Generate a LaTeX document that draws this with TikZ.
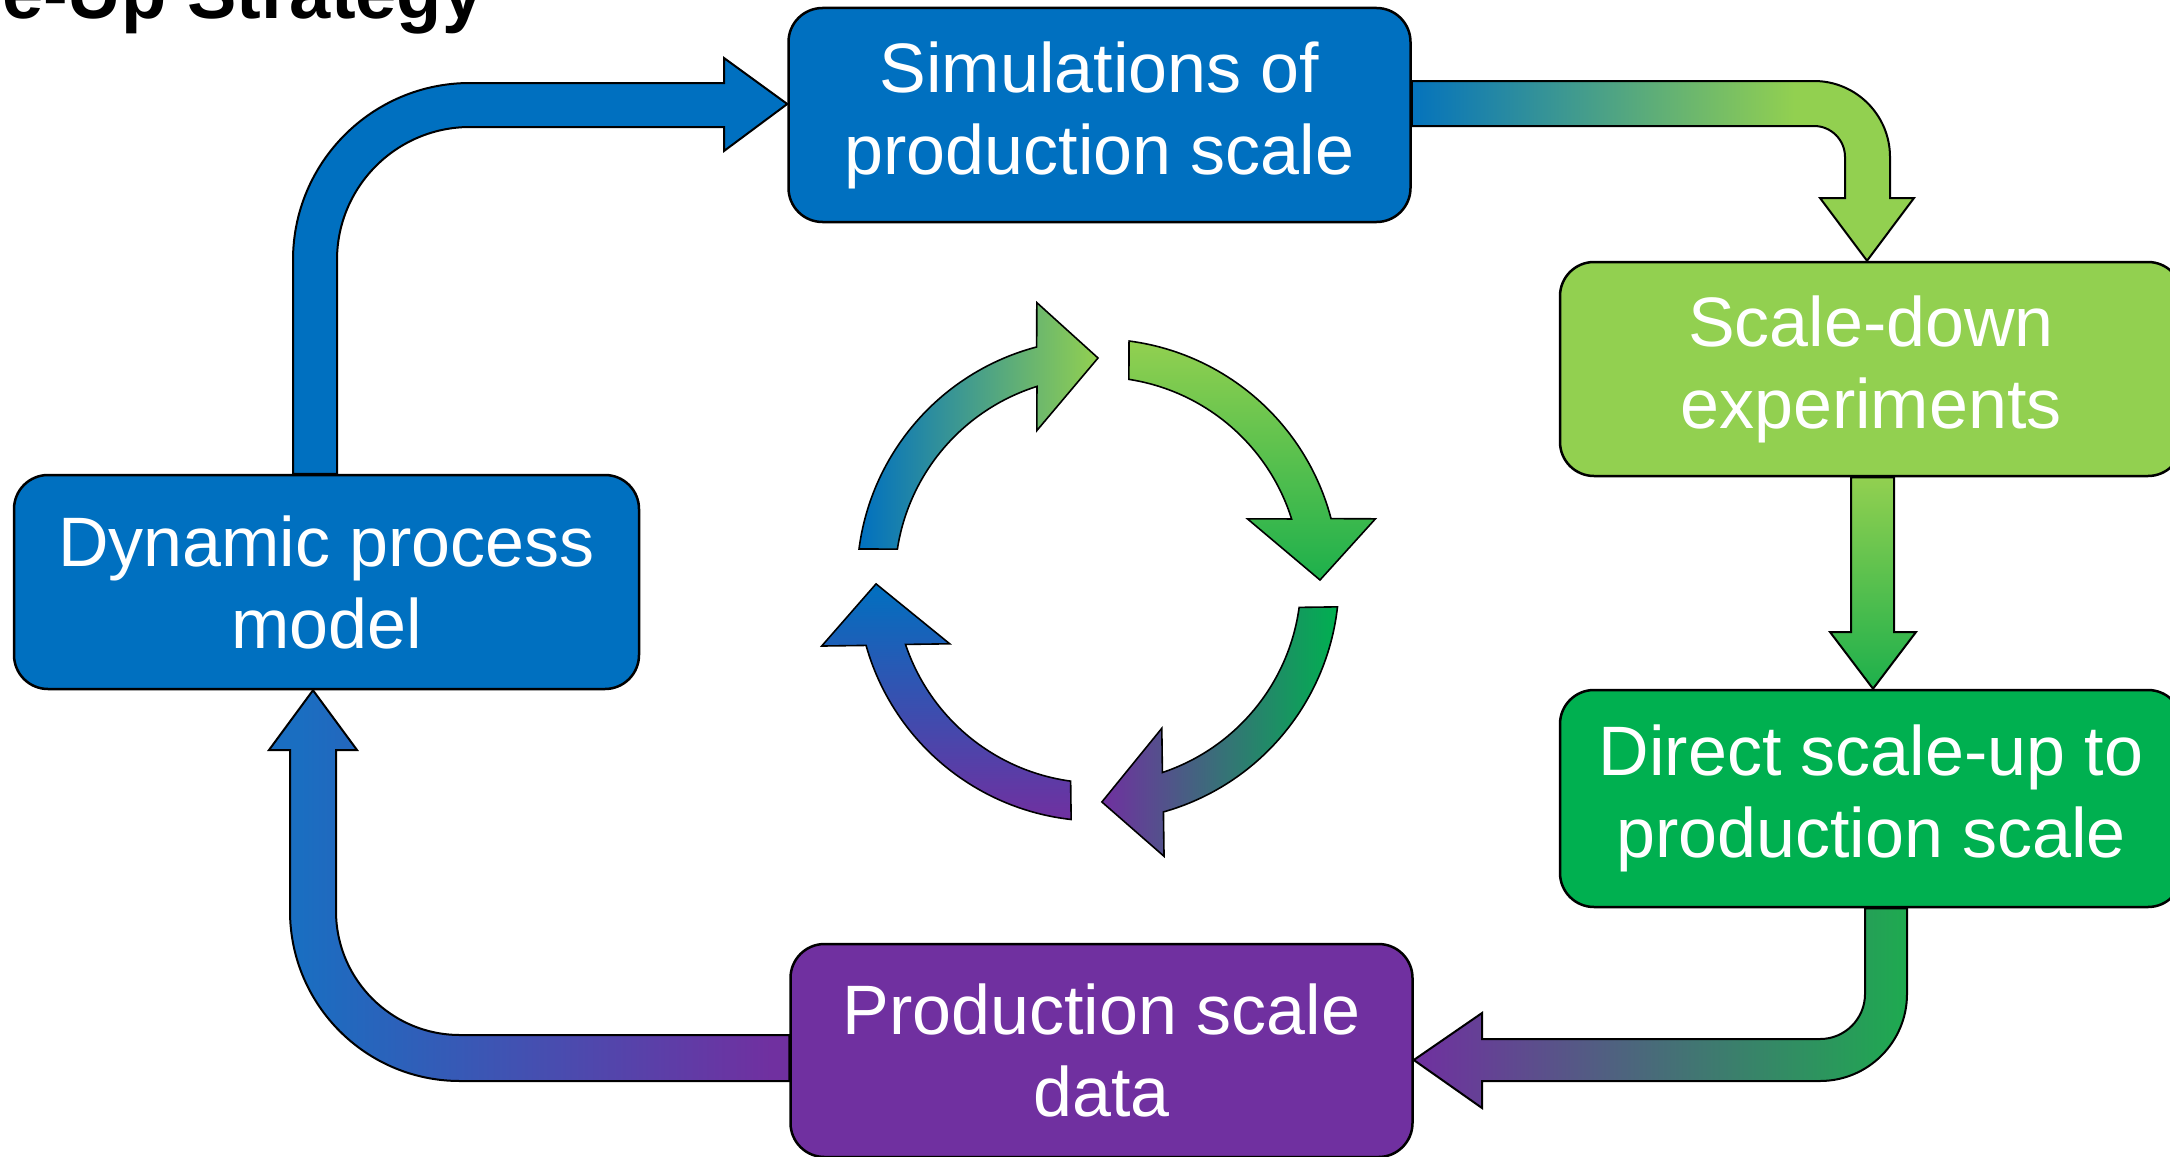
\documentclass[tikz,border=0pt]{standalone}
\usepackage{fontspec}
\setmainfont{Liberation Sans}
\usetikzlibrary{calc,backgrounds}
\definecolor{cblue}{HTML}{0070C0}
\definecolor{clgreen}{HTML}{92D050}
\definecolor{cdgreen}{HTML}{00B050}
\definecolor{cpurple}{HTML}{7030A0}
\definecolor{cmgreen}{HTML}{1DB04C}
\definecolor{cgreenb}{HTML}{1EAA50}
\definecolor{cblueb}{HTML}{1A6EC1}
% connector outlines (block arrows), anchored on the boxes
\newcommand\pathTL{(293,0 |- dyn.north) -- (293,260) arc[start angle=180,end angle=270,radius=177] -- (724,83) -- (724,58) -- (sim.west |- 0,104) -- (724,151) -- (724,127) -- (470,127) arc[start angle=270,end angle=180,radius=133] -- (337,0 |- dyn.north) -- cycle}
\newcommand\pathTR{(sim.east |- 0,81) -- (1814,81) arc[start angle=270,end angle=360,radius=76] -- (1890,198) -- (1914,198) -- (1867,0 |- sdown.north) -- (1820,198) -- (1845,198) -- (1845,157) arc[start angle=0,end angle=-90,radius=31] -- (sim.east |- 0,126) -- cycle}
\newcommand\pathMR{(1851,0 |- sdown.south) -- (1894,0 |- sdown.south) -- (1894,632) -- (1916,632) -- (1873,0 |- direct.north) -- (1830,632) -- (1851,632) -- cycle}
\newcommand\pathBR{(1865,0 |- direct.south) -- (1907,0 |- direct.south) -- (1907,994) arc[start angle=0,end angle=90,radius=87] -- (1482,1081) -- (1482,1108) -- (pdata.east |- 0,1060) -- (1482,1013) -- (1482,1039) -- (1820,1039) arc[start angle=90,end angle=0,radius=45] -- cycle}
\newcommand\pathBL{(pdata.west |- 0,1081) -- (460,1081) arc[start angle=90,end angle=180,radius=170] -- (290,750) -- (269,750) -- (313,0 |- dyn.south) -- (357,750) -- (336,750) -- (336,911) arc[start angle=180,end angle=90,radius=124] -- (pdata.west |- 0,1035) -- cycle}
% one arrow of the central cycle
\newcommand\cyclearrow[2]{%
  \pgfmathsetmacro\caB{#1+66}%
  \pgfmathsetmacro\caT{#1+82}%
  \pgfmathsetmacro\caV{#1+262}%
  \pgfmathsetmacro\caO{#1+67.25}%
  \pgfmathsetmacro\caI{#1+64.5}%
  \pgfmathsetmacro\caS{#1-0.6}%
  \pgfmathsetmacro\caE{#1+0.75}%
  \draw[cycarrow,#2] ($(cc)+(\caS:241)$) arc[start angle=\caS,end angle=\caO,radius=241]
    -- ($(cc)+(\caB:222)+(\caT:64)$) -- ($(cc)+(\caT:222)$) -- ($(cc)+(\caB:222)+(\caV:64)$)
    -- ($(cc)+(\caI:203)$) arc[start angle=\caI,end angle=\caE,radius=203] -- cycle;}
\begin{document}
\begin{tikzpicture}[x=1pt,y=-1pt,
  box/.style={rounded corners=34pt, draw=black, line width=2.5pt,
    minimum width=622pt, minimum height=214pt, inner sep=0pt,
    text=white, align=center, font=\fontsize{70}{82}\selectfont},
  bigarrow/.style={draw=black, line width=2pt, line join=miter},
  cycarrow/.style={draw=black, line width=1.6pt, line join=miter}]
\useasboundingbox (0,0) rectangle (2170,1156);

\node[anchor=base west, inner sep=0pt, font=\bfseries\fontsize{74}{80}\selectfont] (title) at (2,19) {e-Up Strategy};

\node[box, fill=cblue] (sim) at (1099.5,115) {Simulations of\\production scale};
\node[box, fill=clgreen] (sdown) at (1871,369) {Scale-down\\experiments};
\node[box, fill=cdgreen, minimum height=217pt] (direct) at (1871,798.5) {Direct scale-up to\\production scale};
\node[box, fill=cpurple, minimum height=213pt] (pdata) at (1101.5,1050.5) {Production scale\\data};
\node[box, fill=cblue, minimum width=625pt] (dyn) at (326.5,582) {Dynamic process\\model};

\begin{scope}[on background layer]
  % dyn -> sim
  \draw[bigarrow, fill=cblue] \pathTL;
  % sim -> sdown
  \begin{scope}
    \clip \pathTR;
    \fill[left color=cblue, right color=clgreen] (1400,60) rectangle (1795,140);
    \fill[clgreen] (1794,60) rectangle (1930,270);
  \end{scope}
  \draw[bigarrow] \pathTR;
  % sdown -> direct
  \draw[bigarrow, top color=clgreen, bottom color=cmgreen] \pathMR;
  % direct -> pdata
  \draw[bigarrow, left color=cpurple, right color=cgreenb] \pathBR;
  % pdata -> dyn
  \begin{scope}
    \clip \pathBL;
    \fill[cblueb] (260,680) rectangle (301,1090);
    \fill[left color=cblueb, right color=cpurple] (300,680) rectangle (771,1090);
    \fill[cpurple] (770,1020) rectangle (800,1090);
  \end{scope}
  \draw[bigarrow] \pathBL;
\end{scope}

\coordinate (cc) at (1098,580);
\cyclearrow{188}{left color=cblue, right color=clgreen}
\cyclearrow{278}{top color=clgreen, bottom color=cmgreen}
\cyclearrow{7}{left color=cpurple, right color=cdgreen}
\cyclearrow{97}{top color=cblue, bottom color=cpurple}
\end{tikzpicture}
\end{document}
